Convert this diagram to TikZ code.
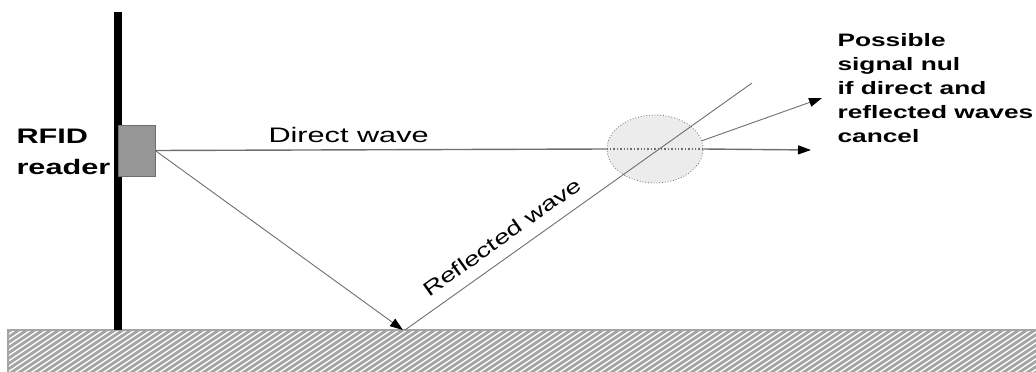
\documentclass[tikz,border=0pt]{standalone}
\usepackage{fontspec}
\setmainfont{Liberation Sans}[FakeStretch=1.46]
\newfontfamily\slantlabel{Liberation Sans}[FakeStretch=1.38]
\usetikzlibrary{arrows.meta,shapes.geometric}
\definecolor{polegray}{RGB}{150,150,150}
\definecolor{wavegray}{RGB}{110,110,110}
\definecolor{nulgray}{RGB}{236,236,236}
\definecolor{hatchgray}{RGB}{165,165,165}
\tikzset{
  wave/.style={wavegray,line width=0.9pt},
  tip/.style={-{Triangle[length=13pt,width=9pt,color=black,fill=black]}},
  hatch/.style={hatchgray,line width=2.8pt}
}

\begin{document}
\begin{tikzpicture}[x=1pt,y=-1pt]
  \useasboundingbox (0,0) rectangle (1036,372);
  % Ground
  \begin{scope}
    \clip (8,330) rectangle (1036,372);
    \foreach \i in {-80,-72,...,1040}
      \draw[hatch] (\i,380) -- (\i+75,330);
  \end{scope}
  \draw[hatchgray,line width=1.5pt] (8,374) -- (8,330) -- (1036,330);
  % Pole with reader
  \draw[line width=8pt] (118,12) -- (118,330);
  \node[draw=wavegray,fill=polegray,minimum width=37pt,minimum height=51pt,inner sep=0pt]
    (reader) at (136.5,150.5) {};
  \node[anchor=north west,align=left,font=\fontsize{21}{31}\selectfont\bfseries]
    (readerlbl) at (13,126) {RFID\\reader};
  % Null zone
  \node[ellipse,draw=wavegray,dotted,thick,fill=nulgray,minimum width=96pt,minimum height=68pt]
    (nul) at (655,149) {};
  % Direct wave
  \coordinate (dirend) at (811,150);
  \draw[wave,line width=1.4pt] (reader.east) -- (nul.west);
  \draw[wave,line width=1.4pt,dotted] (nul.west) -- (nul.east);
  \draw[wave,line width=1.4pt,tip] (nul.east) -- (dirend);
  \node[anchor=base west,font=\fontsize{21}{25}\selectfont] (dirlbl) at (265,142) {Direct wave};
  % Reflected wave
  \coordinate (bounce) at (403,330);
  \coordinate (refend) at (752,83);
  \draw[wave,tip] (reader.east) -- (bounce);
  \draw[wave] ([xshift=2pt]bounce) -- (refend);
  \node[font=\slantlabel\fontsize{20}{24}\selectfont,rotate=35.4] (refllbl) at (502,237) {Reflected wave};
  % Resulting wave
  \coordinate (outend) at (822,98);
  \draw[wave,tip] (nul.10) -- (outend);
  \node[anchor=north west,align=left,font=\fontsize{18}{24}\selectfont\bfseries]
    (nullbl) at (834,30) {Possible\\signal nul\\if direct and\\reflected waves\\cancel};
\end{tikzpicture}
\end{document}
